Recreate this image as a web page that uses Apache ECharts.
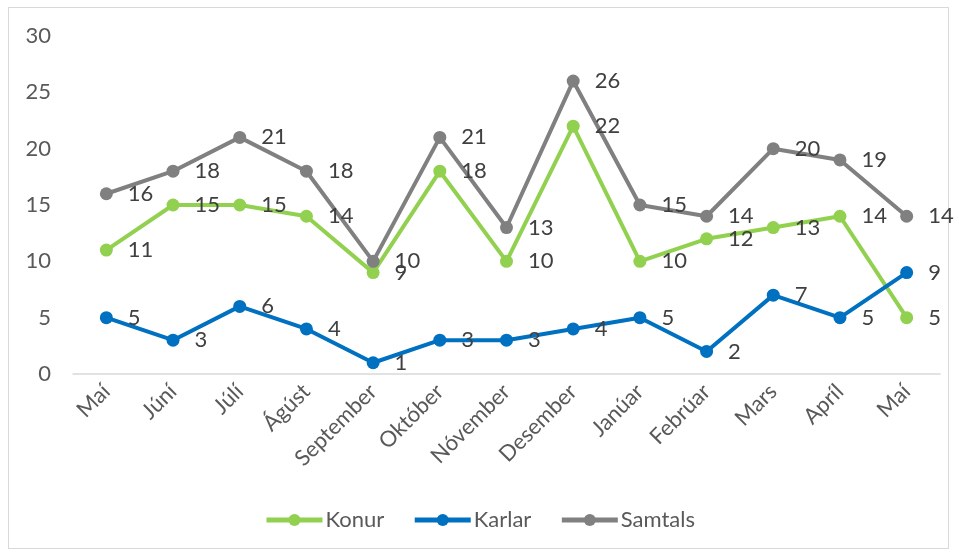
<!DOCTYPE html>
<html>
<head>
<meta charset="utf-8">
<script src="https://cdn.jsdelivr.net/npm/echarts@6/dist/echarts.min.js"></script>
<style>
  html, body { margin: 0; padding: 0; background: #fff; }
  #main { width: 959px; height: 560px; }
  #frame { position: absolute; left: 8px; top: 7px; width: 941px; height: 542px; border: 1px solid #d9d9d9; box-sizing: border-box; }
</style>
</head>
<body>
<div id="frame"></div>
<div id="main"></div>
<script>
// mánuðir
var categories = ['Maí', 'Júní', 'Júlí', 'Ágúst', 'September', 'Október', 'Nóvember', 'Desember', 'Janúar', 'Febrúar', 'Mars', 'Apríl', 'Maí'];
var konur = [11, 15, 15, 14, 9, 18, 10, 22, 10, 12, 13, 14, 5];
var karlar = [5, 3, 6, 4, 1, 3, 3, 4, 5, 2, 7, 5, 9];
var samtals = [16, 18, 21, 18, 10, 21, 13, 26, 15, 14, 20, 19, 14];

var font = 'Lato, "Open Sans", sans-serif';
var textColor = '#595959';

function mkSeries(name, data, color) {
    return {
        name: name,
        type: 'line',
        data: data,
        symbol: 'circle',
        symbolSize: 13,
        lineStyle: { width: 4, color: color },
        itemStyle: { color: color },
        label: {
            show: true,
            position: 'right',
            distance: 15,
            color: '#404040',
            fontSize: 22,
            fontFamily: font
        }
    };
}

var myChart = echarts.init(document.getElementById('main'));
myChart.setOption({
    animation: false,
    grid: {
        left: 73,
        right: 19,
        top: 36,
        bottom: 186
    },
    legend: {
        bottom: 24,
        left: 'center',
        itemWidth: 56,
        itemHeight: 15,
        itemGap: 28,
        lineStyle: { width: 5 },
        textStyle: { color: textColor, fontSize: 22, fontFamily: font, padding: [0, 0, 0, -2] },
        data: ['Konur', 'Karlar', 'Samtals']
    },
    xAxis: {
        type: 'category',
        data: categories,
        boundaryGap: true,
        axisLine: { lineStyle: { color: '#d9d9d9', width: 1.5 } },
        axisTick: { show: false },
        axisLabel: {
            rotate: 45,
            interval: 0,
            margin: 14,
            color: textColor,
            fontSize: 22,
            fontFamily: font
        }
    },
    yAxis: {
        type: 'value',
        min: 0,
        max: 30,
        interval: 5,
        axisLine: { show: false },
        axisTick: { show: false },
        splitLine: { show: false },
        axisLabel: {
            margin: 22,
            color: textColor,
            fontSize: 22,
            fontFamily: font
        }
    },
    series: [
        mkSeries('Konur', konur, '#92d050'),
        mkSeries('Karlar', karlar, '#0070c0'),
        mkSeries('Samtals', samtals, '#808080')
    ]
});
</script>
</body>
</html>
